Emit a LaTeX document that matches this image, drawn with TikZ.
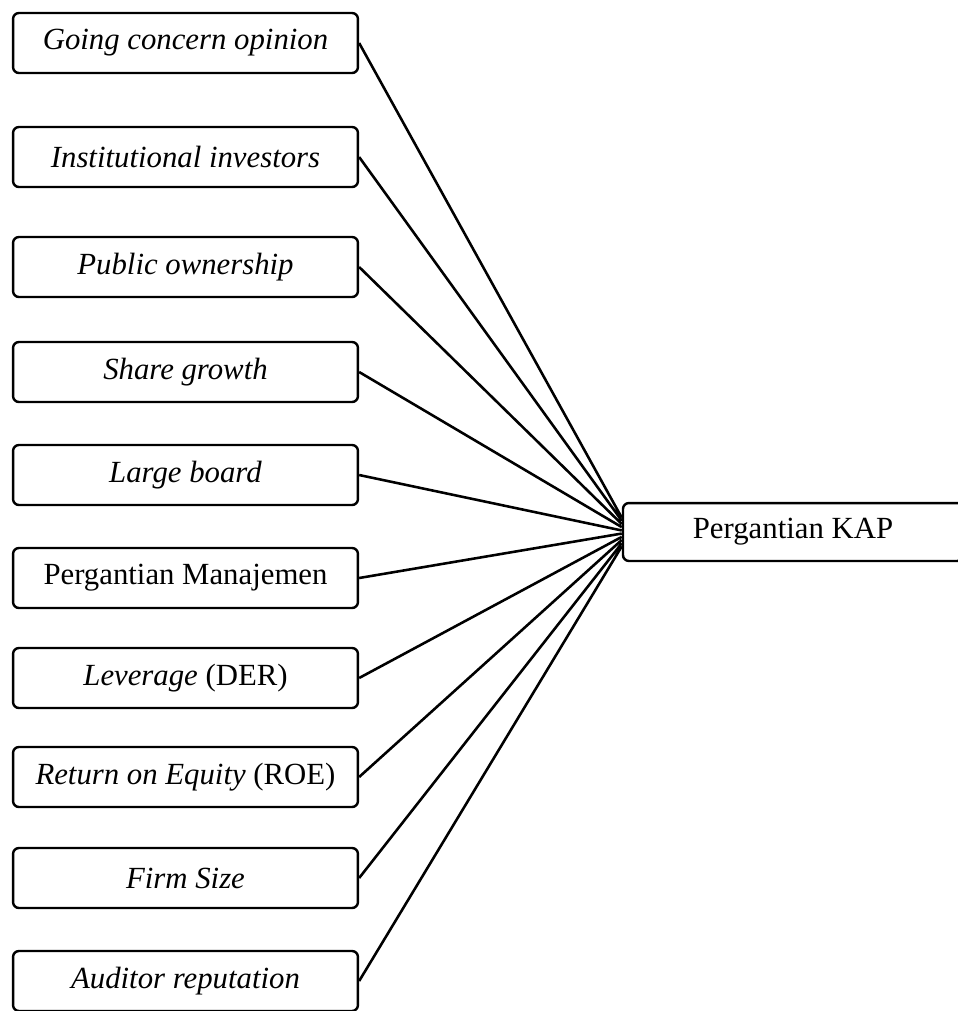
\documentclass[tikz,border=0pt]{standalone}
\usepackage{fontspec}
\setmainfont{Liberation Serif}

\tikzset{
  var/.style={draw, rounded corners=2.3pt, line width=0.95pt, minimum width=134.5pt,
    minimum height=23.4pt, inner sep=0pt, font=\fontsize{12}{14}\selectfont},
  link/.style={line width=1pt}
}

\begin{document}
\begin{tikzpicture}[x=0.39pt, y=-0.39pt]
	\useasboundingbox (0, 0) rectangle (958, 1011);
	% variabel independen
	\node[var] (gco) at (185.5, 43) {\textit{Going concern opinion}};
	\node[var] (inst) at (185.5, 157) {\textit{Institutional investors}};
	\node[var] (pub) at (185.5, 267) {\textit{Public ownership}};
	\node[var] (share) at (185.5, 372) {\textit{Share growth}};
	\node[var] (board) at (185.5, 475) {\textit{Large board}};
	\node[var] (manaj) at (185.5, 578) {Pergantian Manajemen};
	\node[var] (der) at (185.5, 678) {\textit{Leverage} (DER)};
	\node[var] (roe) at (185.5, 777) {\textit{Return on Equity} (ROE)};
	\node[var] (size) at (185.5, 878) {\textit{Firm Size}};
	\node[var] (rep) at (185.5, 981) {\textit{Auditor reputation}};
	% variabel dependen
	\node[var, minimum width=132.6pt, minimum height=22.6pt] (kap) at (793, 532) {Pergantian KAP};
	\draw[link]
	(gco.east) -- ([yshift=5.6pt]kap.west)
	(inst.east) -- ([yshift=4.4pt]kap.west)
	(pub.east) -- ([yshift=3.1pt]kap.west)
	(share.east) -- ([yshift=1.9pt]kap.west)
	(board.east) -- ([yshift=0.6pt]kap.west)
	(manaj.east) -- ([yshift=-0.6pt]kap.west)
	(der.east) -- ([yshift=-1.9pt]kap.west)
	(roe.east) -- ([yshift=-3.1pt]kap.west)
	(size.east) -- ([yshift=-4.4pt]kap.west)
	(rep.east) -- ([yshift=-5.6pt]kap.west)
	;
\end{tikzpicture}
\end{document}
